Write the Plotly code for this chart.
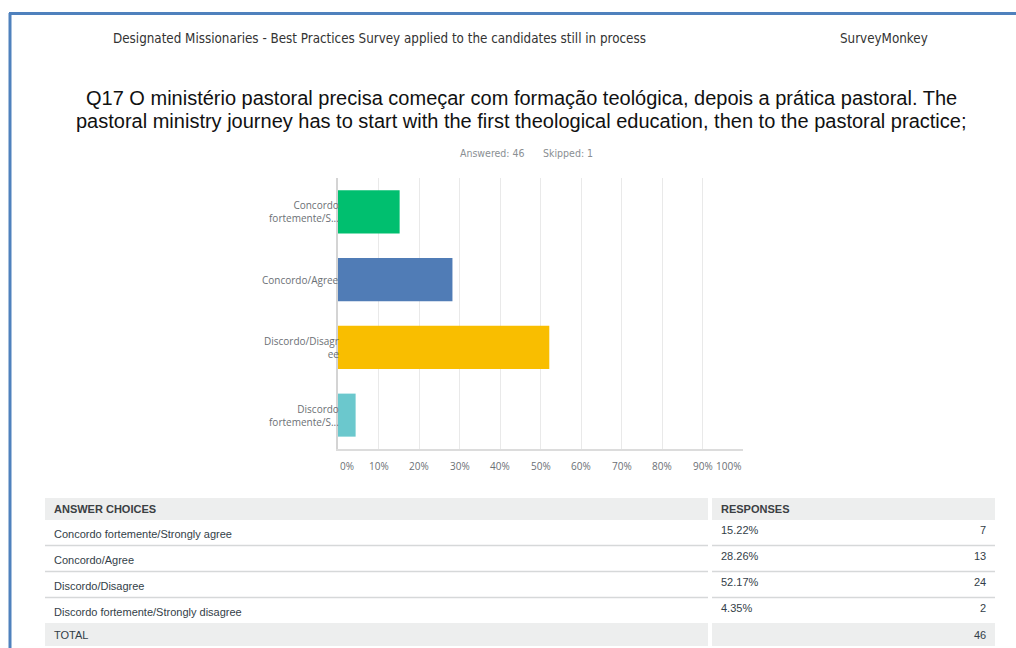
import plotly.graph_objects as go

# ---- survey data ----
categories = [
    "Concordo fortemente/Strongly agree",
    "Concordo/Agree",
    "Discordo/Disagree",
    "Discordo fortemente/Strongly disagree",
]
axis_labels = [
    "Concordo<br>fortemente/S...",
    "Concordo/Agree",
    "Discordo/Disagr<br>ee",
    "Discordo<br>fortemente/S...",
]
percent = [15.22, 28.26, 52.17, 4.35]
counts = [7, 13, 24, 2]
total = 46
answered = 46
skipped = 1
bar_colors = ["#00bf6f", "#507cb6", "#f9be00", "#6bc8cd"]
x_ticks = [0, 10, 20, 30, 40, 50, 60, 70, 80, 90, 100]
x_tick_labels = ["0%", "10%", "20%", "30%", "40%", "50%", "60%", "70%", "80%", "90%", "100%"]

header_text = "Designated Missionaries - Best Practices Survey applied to the candidates still in process"
brand_text = "SurveyMonkey"
question_lines = [
    "Q17 O ministério pastoral precisa começar com formação teológica, depois a prática pastoral. The",
    "pastoral ministry journey has to start with the first theological education, then to the pastoral practice;",
]

# ---- page geometry (pixels) ----
W, H = 1016, 648
L, R, T, B = 338, 743, 178, 449


def px(x):
    return (x - L) / (R - L)


def py(y):
    return (B - y) / (B - T)


SANS = "Liberation Sans, Arial, sans-serif"
CHART_FONT = "Open Sans, sans-serif"
NARROW = "Liberation Sans Narrow, DejaVu Sans Condensed, sans-serif"

fig = go.Figure()
fig.add_trace(go.Bar(
    y=categories,
    x=percent,
    orientation="h",
    marker=dict(color=bar_colors, line=dict(width=0)),
    hoverinfo="skip",
))

annotations = []
shapes = []


def text(x, y, s, size, color, family=SANS, xanchor="left", yanchor="middle", **kw):
    annotations.append(dict(
        x=px(x), y=py(y), xref="paper", yref="paper", text=s, showarrow=False,
        font=dict(size=size, color=color, family=family),
        xanchor=xanchor, yanchor=yanchor, borderpad=0, **kw))


def rect(x0, y0, x1, y1, color):
    shapes.append(dict(type="rect", xref="paper", yref="paper",
                       x0=px(x0), x1=px(x1), y0=py(y1), y1=py(y0),
                       fillcolor=color, line=dict(width=0), layer="below"))


def hline(x0, x1, y, color, width):
    shapes.append(dict(type="line", xref="paper", yref="paper",
                       x0=px(x0), x1=px(x1), y0=py(y), y1=py(y),
                       line=dict(color=color, width=width)))


# page frame
hline(9, W, 13.5, "#4f81bd", 3)
shapes.append(dict(type="line", xref="paper", yref="paper",
                   x0=px(10), x1=px(10), y0=py(13), y1=py(H + 2),
                   line=dict(color="#4f81bd", width=3)))

# page header and question title
text(112, 38.5, header_text, 13.3, "#333333", family=NARROW)
text(839, 38.5, brand_text, 13.3, "#333333", family=NARROW)
for line, y in zip(question_lines, (98, 121)):
    text(521, y, line, 20, "#111111", xanchor="center")
text(459, 152.5, "Answered: %d" % answered, 10.5, "#8a8f93", family=NARROW)
text(542, 152.5, "Skipped: %d" % skipped, 10.5, "#8a8f93", family=NARROW)

# category labels, right-aligned against the axis
for lab, cat in zip(axis_labels, categories):
    annotations.append(dict(
        x=0, xref="paper", y=cat, yref="y", text=lab, showarrow=False,
        xanchor="right", yanchor="middle", xshift=3, align="right",
        font=dict(size=10, color="#6b7075", family=CHART_FONT)))

# percentage tick labels under the plot
for t, lab in zip(x_ticks, x_tick_labels):
    anchor = "left" if t == x_ticks[0] else ("right" if t == x_ticks[-1] else "center")
    annotations.append(dict(
        x=t, xref="x", y=py(465.5), yref="paper", text=lab, showarrow=False,
        xanchor=anchor, yanchor="middle",
        font=dict(size=10, color="#6b7075", family=CHART_FONT)))

# ---- answer table ----
LC0, LC1 = 45, 708      # answer choices column
RC0, RC1 = 712, 995     # responses column
GRAY = "#edeeee"
SEP = "#d6d8d9"

rect(LC0, 498, LC1, 520, GRAY)
rect(RC0, 498, RC1, 520, GRAY)
rect(LC0, 623, LC1, 646, GRAY)
rect(RC0, 623, RC1, 646, GRAY)
for y in (545.5, 571.5, 597.5):
    hline(LC0, LC1, y, SEP, 1.5)
    hline(RC0, RC1, y, SEP, 1.5)

text(53, 509, "<b>ANSWER CHOICES</b>", 11, "#3b4043")
text(720, 509, "<b>RESPONSES</b>", 11, "#3b4043")

row_mid_left = [534, 560, 586, 612]
row_mid_right = [530, 556, 582, 608]
for cat, p, c, yl, yr in zip(categories, percent, counts, row_mid_left, row_mid_right):
    text(53, yl, cat, 11, "#333e48")
    text(720, yr, "%.2f%%" % p, 11, "#333e48")
    text(987, yr, str(c), 11, "#333e48", xanchor="right")
text(53, 634.5, "TOTAL", 11, "#333e48")
text(987, 634.5, str(total), 11, "#333e48", xanchor="right")

fig.update_layout(
    width=W, height=H,
    margin=dict(l=L, r=W - R, t=T, b=H - B, pad=0),
    paper_bgcolor="white", plot_bgcolor="white",
    showlegend=False,
    bargap=0.365,
    xaxis=dict(range=[0, 100], tickvals=x_ticks, showticklabels=False,
               showgrid=True, gridcolor="#e9e9e9", gridwidth=1,
               zeroline=False, showline=True, linecolor="#dcdcdc", linewidth=2,
               fixedrange=True),
    yaxis=dict(categoryorder="array", categoryarray=categories, autorange="reversed",
               showticklabels=False, showgrid=False, zeroline=False,
               showline=True, linecolor="#d4d4d4", linewidth=2, fixedrange=True),
    annotations=annotations,
    shapes=shapes,
)

fig.write_html("out.html", config={"displayModeBar": False})
